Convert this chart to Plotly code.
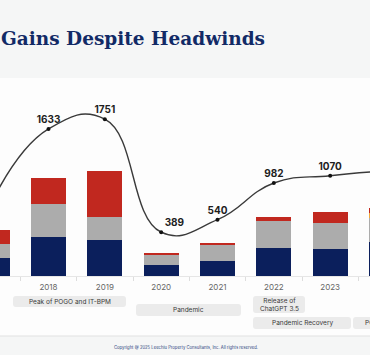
import plotly.graph_objects as go

# ---- data ----
years = ["2017", "2018", "2019", "2020", "2021", "2022", "2023", "2024"]
navy_vals = [300, 650, 595, 185, 250, 466, 452, 564]
grey_vals = [232, 550, 380, 166, 280, 450, 435, 398]
orange_vals = [0, 0, 0, 0, 0, 0, 0, 83]
red_vals = [232, 433, 776, 38, 10, 66, 183, 83]
totals = [764, 1633, 1751, 389, 540, 982, 1070, 1128]
value_labels = ["", "<b>1633</b>", "<b>1751</b>", "<b>389</b>", "<b>540</b>",
                "<b>982</b>", "<b>1070</b>", ""]
label_pos = ["top center", "top center", "top center", "top right", "top center",
             "top center", "top center", "top center"]

events = [
    ("Peak of POGO and IT-BPM", 13, 126, 296, 307),
    ("Pandemic", 136, 241, 304, 316),
    ("Release of<br>ChatGPT 3.5", 253, 305, 296, 313),
    ("Pandemic Recovery", 253, 351, 317, 329),
    ("POGO Ban", 353, 410, 317, 329),
]

W, H = 370, 355
TOP, BOT = 80, 276  # plot area in px

NAVY = "#0b1f5c"
GREY = "#acacac"
RED = "#c1281f"
ORANGE = "#f2a93b"

fig = go.Figure()
bw = 0.62
for name, vals, col in [("navy", navy_vals, NAVY), ("grey", grey_vals, GREY),
                        ("orange", orange_vals, ORANGE), ("red", red_vals, RED)]:
    fig.add_trace(go.Bar(x=years, y=vals, marker=dict(color=col, line=dict(width=0)),
                         width=bw, name=name, showlegend=False, hoverinfo="skip"))

fig.add_trace(go.Scatter(x=years, y=totals, yaxis="y2", mode="lines+markers+text",
                         text=value_labels, textposition=label_pos,
                         textfont=dict(size=10, color="#1e1e1e", family="Inter"),
                         line=dict(color="#3a3a3a", width=1.4, shape="spline", smoothing=1.3),
                         marker=dict(color="#111", size=4), showlegend=False,
                         hoverinfo="skip", cliponaxis=False))

def py(p):
    return (BOT - p) / (BOT - TOP)

def px(p):
    return p / W

shapes = []
# header band
shapes.append(dict(type="rect", xref="paper", yref="paper", x0=-0.01, x1=1.01,
                   y0=py(78), y1=py(-2), fillcolor="#f5f6f6", line=dict(width=0), layer="below"))
# footer band
shapes.append(dict(type="rect", xref="paper", yref="paper", x0=-0.01, x1=1.01,
                   y0=py(358), y1=py(336), fillcolor="#f5f6f6", line=dict(width=0), layer="below"))
shapes.append(dict(type="line", xref="paper", yref="paper", x0=-0.01, x1=1.01,
                   y0=py(336), y1=py(336), line=dict(color="#e2e2e2", width=1.2), layer="below"))

def rrect(x0, x1, y0, y1, r=3):
    X = lambda v: px(v)
    Y = lambda v: py(v)
    return (f"M {X(x0+r)},{Y(y0)} L {X(x1-r)},{Y(y0)} Q {X(x1)},{Y(y0)} {X(x1)},{Y(y0+r)} "
            f"L {X(x1)},{Y(y1-r)} Q {X(x1)},{Y(y1)} {X(x1-r)},{Y(y1)} "
            f"L {X(x0+r)},{Y(y1)} Q {X(x0)},{Y(y1)} {X(x0)},{Y(y1-r)} "
            f"L {X(x0)},{Y(y0+r)} Q {X(x0)},{Y(y0)} {X(x0+r)},{Y(y0)} Z")

annotations = []
for text, x0, x1, y0, y1 in events:
    shapes.append(dict(type="path", xref="paper", yref="paper", path=rrect(x0, x1, y0, y1),
                       fillcolor="#ebebeb", line=dict(width=0), layer="below"))
    annotations.append(dict(text=text, xref="paper", yref="paper", x=px((x0 + x1) / 2),
                            y=py((y0 + y1) / 2), showarrow=False, xanchor="center", yanchor="middle",
                            font=dict(size=6.5, color="#3a3a3a", family="Inter"), align="center"))

# title
annotations.append(dict(text="<b>Gains Despite Headwinds</b>", xref="paper", yref="paper",
                        x=px(-1), y=py(38), xanchor="left", yanchor="middle", showarrow=False,
                        font=dict(size=18.5, color="#122a66", family="DejaVu Serif")))
# footer
annotations.append(dict(text="Copyright @ 2025 Leechiu Property Consultants, Inc. All rights reserved.",
                        xref="paper", yref="paper", x=px(186), y=py(347), xanchor="center",
                        yanchor="middle", showarrow=False,
                        font=dict(size=4.2, color="#2b3f7c", family="Inter")))

fig.update_layout(
    width=W, height=H,
    margin=dict(l=0, r=0, t=TOP, b=H - BOT),
    paper_bgcolor="#fdfdfd", plot_bgcolor="rgba(0,0,0,0)",
    barmode="stack", bargap=0.38,
    xaxis=dict(type="category", categoryorder="array", categoryarray=years,
               range=[0.139, 6.707], tickson="boundaries", ticks="outside", ticklen=4,
               tickcolor="#dddddd", showline=True, linecolor="#e6e6e6", linewidth=1,
               showgrid=False, tickfont=dict(size=8, color="#666666", family="Inter"),
               ticklabelstandoff=3, fixedrange=True),
    yaxis=dict(range=[0, (BOT - TOP) * 16.6], visible=False, fixedrange=True),
    yaxis2=dict(range=[-138.6, 2222.9], overlaying="y", visible=False, fixedrange=True),
    shapes=shapes, annotations=annotations,
)

fig.write_html("out.html", config={"displayModeBar": False},
               post_script="document.body.style.margin='0';document.body.style.overflow='hidden';")
